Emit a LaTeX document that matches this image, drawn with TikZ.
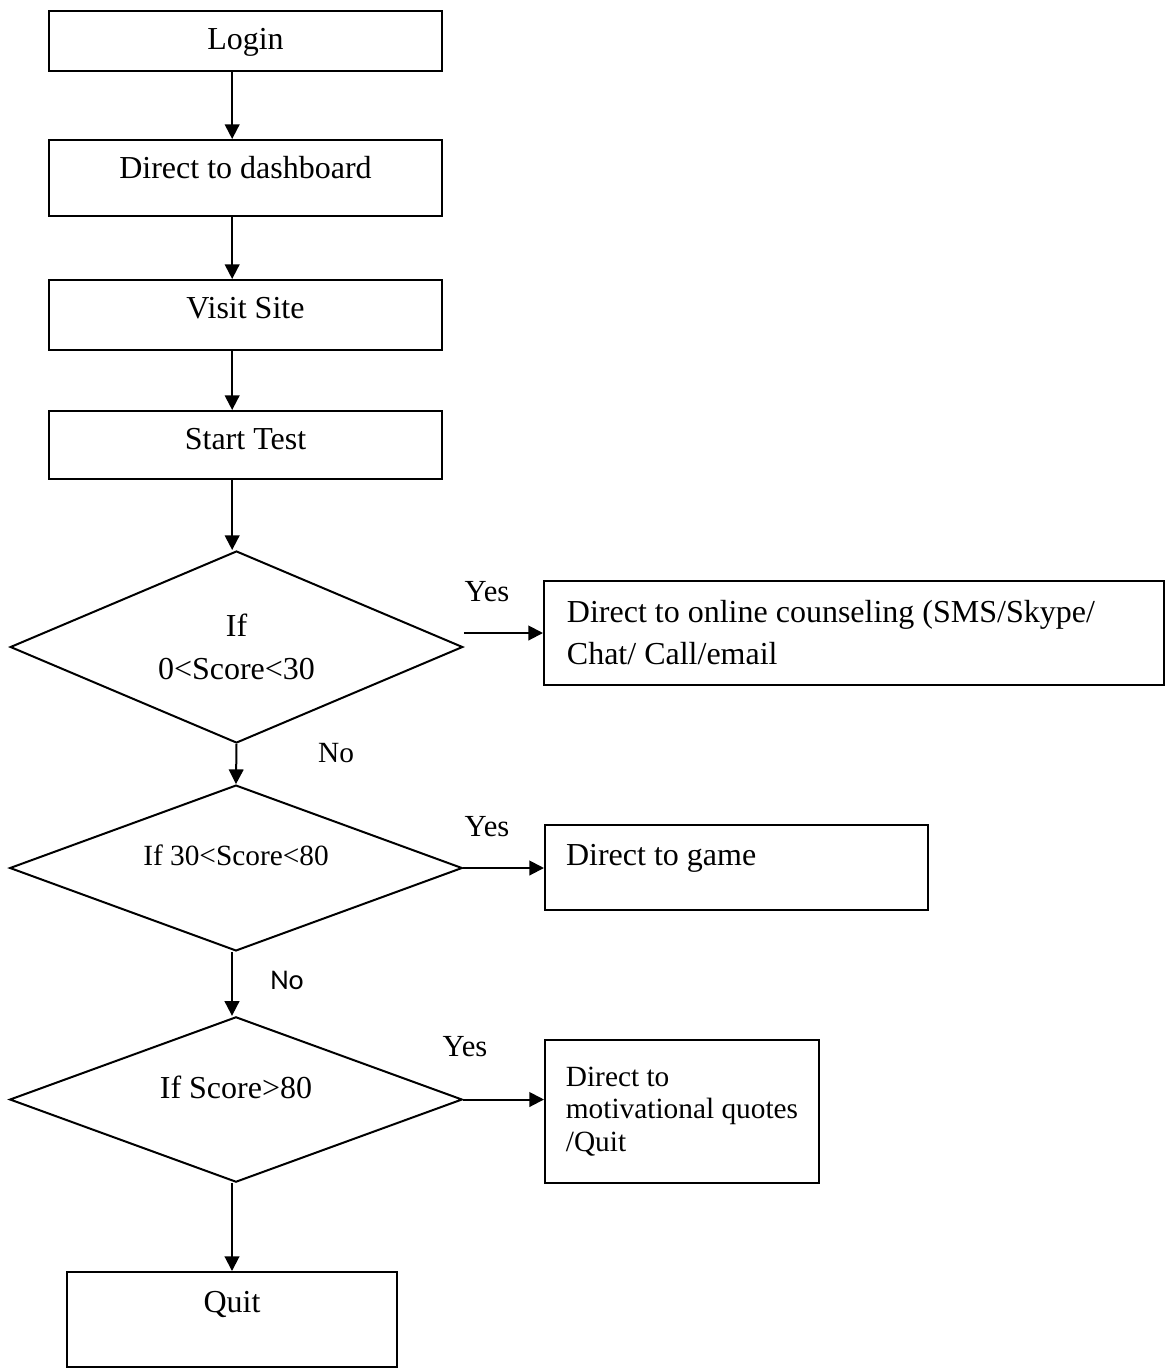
\documentclass[tikz,border=0pt]{standalone}
\usepackage{fontspec}
\setmainfont{Liberation Serif}
\newfontfamily\calibrifont{Carlito}
\usepackage{tikz}
\usetikzlibrary{arrows.meta,positioning,shapes.geometric}
\colorlet{ink}{black}
\tikzset{
  arrow/.style={-{Triangle[length=5.5pt,width=5.5pt]}, draw=ink, line width=0.75pt},
  box/.style={
    rectangle,
    draw=ink,
    line width=0.75pt,
    inner sep=0pt,
    anchor=north,
    minimum width=147.4pt,
    text height=14.6pt,
    font=\fontsize{12}{14}\selectfont
  },
  sidebox/.style={
    rectangle,
    draw=ink,
    line width=0.75pt,
    inner ysep=0pt,
    anchor=north west,
    align=flush left,
    font=\fontsize{12}{14}\selectfont
  },
  decision/.style={
    diamond,
    aspect=3,
    draw=ink,
    line width=0.75pt,
    inner sep=0pt,
    align=center,
    minimum width=169.7pt,
    font=\fontsize{12}{16}\selectfont
  },
  yes/.style={font=\fontsize{11.5}{13}\selectfont},
  no/.style={font=\fontsize{11}{12}\selectfont}
}

\begin{document}
\begin{tikzpicture}[x=0.375pt,y=-0.375pt]
  \useasboundingbox (0,0) rectangle (1165,1369);

  % main column
  \node[box, text depth=7.9pt] (login) at (245.5,10) {Login};
  \node[box, text depth=13.9pt] (dash) at (245.5,139) {Direct to dashboard};
  \node[box, text depth=11.6pt] (visit) at (245.5,279) {Visit Site};
  \node[box, text depth=10.9pt] (start) at (245.5,410) {Start Test};

  \node[decision, minimum height=72pt] (q1) at (236.5,647) {If\\0<Score<30};
  \node[decision, minimum height=62.2pt, text height=8pt, text depth=10.2pt,
        font=\fontsize{11}{13}\selectfont] (q2) at (236,868) {If 30<Score<80};
  \node[decision, minimum height=62pt, text height=8pt, text depth=9.1pt] (q3) at (236,1099.5) {If Score>80};

  \node[box, minimum width=123.75pt, text height=15pt, text depth=20.6pt] (quit) at (232,1271) {Quit};

  % outcomes
  \node[sidebox, text width=215.25pt, inner xsep=8.6pt, minimum height=39pt,
        font=\fontsize{12}{15.75}\selectfont] (online) at (543,580)
        {Direct to online counseling (SMS/Skype/\\Chat/ Call/email};
  \node[sidebox, text width=127.9pt, inner xsep=7.9pt, text height=15pt, text depth=16.9pt] (game) at (544,824) {Direct to game};
  \node[sidebox, inner xsep=0pt, minimum width=102.75pt, minimum height=53.6pt,
        font=\fontsize{11}{12.2}\selectfont] (motiv) at (544,1039)
        {Direct to\\motivational quotes\\/Quit};

  % labels
  \node[yes] (yes1) at (487,592) {Yes};
  \node[yes] (yes2) at (487,827) {Yes};
  \node[yes] (yes3) at (465,1047) {Yes};
  \node[no] (no1) at (336,753) {No};
  \node[no, font=\calibrifont\fontsize{10.7}{12}\selectfont] (no2) at (287,980) {No};

  \draw[arrow] ([xshift=-5pt]login.south) -- ([xshift=-5pt]dash.north);
  \draw[arrow] ([xshift=-5pt]dash.south) -- ([xshift=-5pt]visit.north);
  \draw[arrow] ([xshift=-5pt]visit.south) -- ([xshift=-5pt]start.north);
  \draw[arrow] ([xshift=-5pt]start.south) -- ([xshift=-5pt]start.south |- q1.north);
  \draw[arrow] (q1.south) -- (q2.north);
  \draw[arrow] (q2.south -| quit.north) -- (q3.north -| quit.north);
  \draw[arrow] (q3.south -| quit.north) -- (quit.north);

  \draw[arrow] (q1.east |- online.west) -- (online.west);
  \draw[arrow] (q2.east) -- (q2.east -| game.west);
  \draw[arrow] (q3.east) -- (q3.east -| motiv.west);
\end{tikzpicture}
\end{document}
